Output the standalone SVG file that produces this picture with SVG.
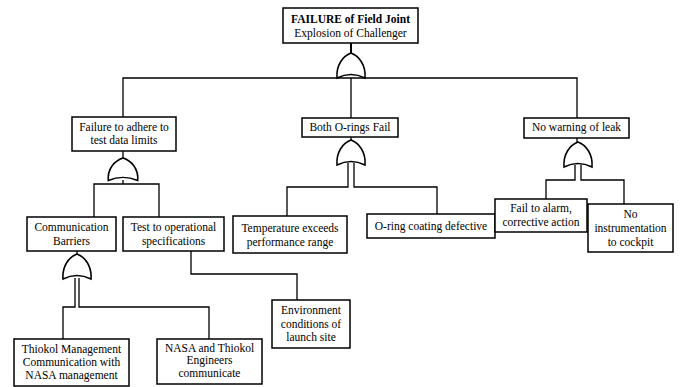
<svg xmlns="http://www.w3.org/2000/svg" width="683" height="387" viewBox="0 0 683 387">
<defs>
<style>
.box{fill:#fff;stroke:#000;stroke-width:1.5}
.t{font-family:'Liberation Serif','Times New Roman',serif;font-size:11.5px;fill:#000;text-anchor:middle}
.b{font-weight:bold}
.ln{fill:none;stroke:#000;stroke-width:1.3}
.gate{fill:#fff;stroke:#000;stroke-width:1.6}
</style>
<path id="or" d="M -14,25 C -15,12 -8,3 0,0 C 8,3 15,12 14,25 Q 0,18 -14,25 Z"/>
</defs>
<rect width="683" height="387" fill="#fff"/>
<g id="connectors">
<path class="ln" d="M351,43 V53" style="stroke-width:2"/>
<path class="ln" d="M123,117 V78 H577 V118 M351,78 V118"/>
<path class="ln" d="M123,151 V158 M123,180 V184 M94,217 V184 H159 V217"/>
<path class="ln" d="M351,137 V140 M348,163 V187 H287 V216 M354,163 V187 H437 V214"/>
<path class="ln" d="M577,138 V142 M575,165 V180 H546 V199 M581,165 V180 H624 V204"/>
<path class="ln" d="M77,251 V254 M75,278 V307 H63 V339 M79,278 V307 H209 V339"/>
<path class="ln" d="M191,251 V274 H297 V300"/>
</g>
<g id="gates">
<use href="#or" class="gate" x="351" y="53"/>
<use href="#or" class="gate" transform="translate(123,158) scale(1.05,0.9)"/>
<use href="#or" class="gate" x="351" y="140"/>
<use href="#or" class="gate" x="578" y="142"/>
<use href="#or" class="gate" x="77" y="254"/>
</g>
<g id="n-top"><rect class="box" x="283" y="8" width="135" height="35"/><text class="t b" x="350.5" y="23">FAILURE of Field Joint</text><text class="t" x="350.5" y="37">Explosion of Challenger</text></g>
<g id="n-adhere"><rect class="box" x="72" y="117" width="104" height="34"/><text class="t" x="124" y="131">Failure to adhere to</text><text class="t" x="124" y="144">test data limits</text></g>
<g id="n-both"><rect class="box" x="302" y="118" width="96" height="19"/><text class="t" x="350" y="131">Both O-rings Fail</text></g>
<g id="n-nowarn"><rect class="box" x="524" y="118" width="105" height="20"/><text class="t" x="576.5" y="131">No warning of leak</text></g>
<g id="n-comm"><rect class="box" x="27" y="217" width="89" height="34"/><text class="t" x="71.5" y="231">Communication</text><text class="t" x="71.5" y="245">Barriers</text></g>
<g id="n-test"><rect class="box" x="123" y="217" width="101" height="34"/><text class="t" x="173.5" y="231">Test to operational</text><text class="t" x="173.5" y="245">specifications</text></g>
<g id="n-temp"><rect class="box" x="233" y="216" width="114" height="37"/><text class="t" x="290" y="232">Temperature exceeds</text><text class="t" x="290" y="246">performance range</text></g>
<g id="n-oring"><rect class="box" x="367" y="214" width="128" height="24"/><text class="t" x="431" y="230">O-ring coating defective</text></g>
<g id="n-fail"><rect class="box" x="495" y="199" width="92" height="33"/><text class="t" x="541" y="212">Fail to alarm,</text><text class="t" x="541" y="226">corrective action</text></g>
<g id="n-noinst"><rect class="box" x="588" y="204" width="85" height="48"/><text class="t" x="630.5" y="218">No</text><text class="t" x="630.5" y="232">instrumentation</text><text class="t" x="630.5" y="246">to cockpit</text></g>
<g id="n-env"><rect class="box" x="272" y="300" width="78" height="48"/><text class="t" x="311" y="314">Environment</text><text class="t" x="311" y="328">conditions of</text><text class="t" x="311" y="341">launch site</text></g>
<g id="n-thiokol"><rect class="box" x="14" y="339" width="115" height="47"/><text class="t" x="71.5" y="353">Thiokol Management</text><text class="t" x="71.5" y="366">Communication with</text><text class="t" x="71.5" y="379">NASA management</text></g>
<g id="n-nasa"><rect class="box" x="157" y="339" width="105" height="45"/><text class="t" x="209.5" y="352">NASA and Thiokol</text><text class="t" x="209.5" y="364">Engineers</text><text class="t" x="209.5" y="377">communicate</text></g>
</svg>
